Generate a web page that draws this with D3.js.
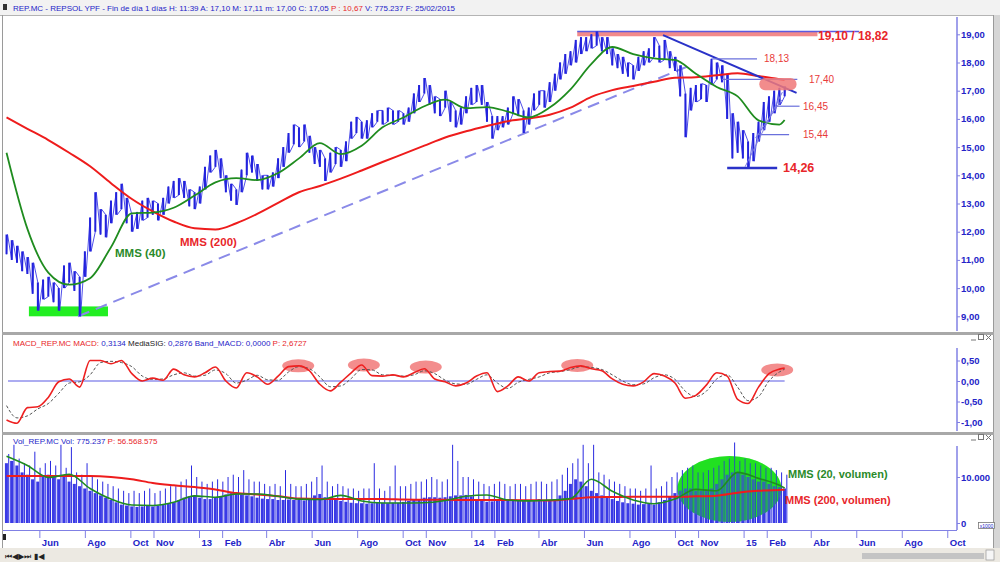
<!DOCTYPE html>
<html>
<head>
<meta charset="utf-8">
<script src="https://cdn.jsdelivr.net/npm/d3@7"></script>
<style>
body{margin:0;background:#fff}
svg{display:block;font-family:"Liberation Sans",Arial,sans-serif}
</style>
</head>
<body>
<svg width="1000" height="562"></svg>
<script>
var svg = d3.select("svg"),
	width = +svg.attr("width"),
	height = +svg.attr("height");

// weekly bars, Wednesdays, from 18 Apr 2012 to 25 Feb 2015
var firstWeek = new Date(2012, 3, 18);
var weekCount = 150;

var priceLow = [11.2,11.0,10.9,10.6,10.5,9.8,9.2,9.6,9.7,9.5,
	9.2,10.0,10.2,9.9,9.0,10.4,11.3,12.0,11.9,11.8,
	12.3,12.6,12.8,12.3,12.0,12.1,12.4,12.5,12.6,12.4,
	12.6,13.0,13.2,13.3,13.2,12.9,12.8,13.0,13.5,14.1,
	14.3,13.9,13.4,13.1,12.95,13.4,14.0,14.1,13.8,13.5,
	13.5,13.6,13.9,14.3,14.8,15.1,15.0,15.2,14.8,14.4,
	14.3,13.8,14.1,14.4,14.3,14.5,15.3,15.5,15.3,15.3,
	15.7,15.9,15.8,15.9,15.8,15.9,15.8,15.9,16.2,16.6,
	16.9,16.5,16.2,16.1,16.4,15.9,15.7,15.8,16.2,16.5,
	16.6,16.5,15.9,15.3,15.6,15.7,15.8,16.2,16.1,15.5,
	15.8,16.3,16.5,16.4,16.6,17.0,17.4,17.6,17.9,18.0,
	18.3,18.4,18.5,18.6,18.4,18.3,17.9,17.8,17.6,17.5,
	17.4,17.7,17.9,18.0,18.2,18.0,18.1,17.8,17.7,16.8,
	15.35,16.3,16.6,16.7,16.6,17.2,17.4,17.3,16.0,14.6,
	14.8,14.6,14.26,14.5,15.2,15.6,15.9,16.2,16.5,16.8];
var priceHigh = [11.9,11.7,11.5,11.3,11.1,10.9,10.2,10.3,10.4,10.2,
	10.0,10.8,10.9,10.6,10.4,11.3,12.5,13.4,12.8,12.6,
	13.1,13.4,13.7,13.2,12.6,12.7,13.1,13.2,13.1,13.0,
	13.2,13.6,13.8,13.9,13.8,13.5,13.4,13.6,14.3,14.7,
	14.9,14.6,14.0,13.7,13.5,14.2,14.8,14.7,14.4,14.0,
	14.0,14.1,14.6,15.0,15.5,15.8,15.7,15.8,15.4,15.0,
	14.9,14.6,14.8,15.0,14.9,15.2,15.9,16.07,15.9,15.95,
	16.2,16.3,16.3,16.4,16.3,16.3,16.2,16.4,16.9,17.2,
	17.45,17.2,16.8,16.7,17.0,16.6,16.3,16.4,16.8,17.1,
	17.2,17.2,16.6,16.1,16.1,16.1,16.4,16.8,16.7,16.3,
	16.4,16.9,17.0,17.0,17.3,17.6,18.0,18.3,18.4,18.8,
	18.9,18.9,19.0,19.1,18.9,18.9,18.5,18.3,18.2,18.0,
	17.9,18.2,18.4,18.5,18.9,18.6,18.8,18.4,18.2,17.9,
	16.9,17.1,17.2,17.25,17.2,18.13,18.0,17.9,17.6,16.2,
	15.9,15.6,15.2,15.5,15.9,16.6,16.8,17.0,17.1,17.15];

// moving averages read every 4 weeks (plus last week)
var mms40 = [14.8,12.1,10.55,10.12,10.35,11.45,12.65,12.68,12.85,13.28,
	13.75,13.9,13.83,14.08,14.6,15.14,14.75,15.05,15.7,16.05,
	16.45,16.68,16.38,16.42,16.26,16.05,16.4,17.05,17.95,18.55,
	18.3,18.15,18.09,17.6,17.13,16.8,15.95,15.8,15.96];
var mms200 = [16.05,15.65,15.25,14.8,14.32,13.72,13.16,12.72,12.36,12.12,
	12.08,12.3,12.63,13.02,13.4,13.62,13.88,14.17,14.47,14.76,
	15.05,15.34,15.56,15.75,15.92,16.02,16.15,16.4,16.78,17.02,
	17.17,17.32,17.46,17.48,17.55,17.62,17.52,17.41,17.38];

// MACD read every 2 weeks (plus last week)
var macdLine = [-0.95,-1.03,-0.65,-0.63,-0.4,-0.02,0.05,-0.15,0.5,0.5,
	0.42,0.5,0.18,0.0,0.07,0.02,0.29,0.15,0.1,0.2,
	0.34,0.0,-0.17,0.2,0.1,-0.08,0.12,0.35,0.37,0.25,
	-0.08,-0.24,-0.03,0.2,0.39,0.13,0.12,0.15,0.1,0.2,
	0.3,0.05,-0.02,-0.12,-0.05,0.12,0.2,-0.26,-0.12,0.1,
	0.0,0.2,0.23,0.24,0.33,0.37,0.3,0.25,0.05,-0.08,
	-0.12,-0.02,0.18,0.12,-0.05,-0.42,-0.35,-0.1,0.2,0.12,
	-0.45,-0.55,-0.15,0.18,0.29,0.3134];
var macdSignal = [-0.6,-0.9,-0.85,-0.68,-0.55,-0.3,-0.05,-0.02,0.15,0.45,
	0.48,0.45,0.35,0.12,0.04,0.05,0.15,0.2,0.12,0.14,
	0.27,0.18,-0.05,0.02,0.14,0.03,0.02,0.22,0.35,0.3,
	0.1,-0.14,-0.12,0.06,0.28,0.27,0.15,0.14,0.12,0.15,
	0.25,0.18,0.02,-0.07,-0.08,0.04,0.15,-0.05,-0.18,-0.03,
	0.04,0.1,0.2,0.23,0.28,0.35,0.33,0.28,0.15,0.0,
	-0.09,-0.07,0.08,0.15,0.04,-0.25,-0.38,-0.25,0.05,0.15,
	-0.15,-0.48,-0.38,0.0,0.22,0.2876];

// volume in thousands: weekly body level and weekly peak
var volBody = [13,13.5,12.5,11,10.5,9.5,9,10,10.5,10,
	9.5,10,9,8.5,8,7.5,7,6.5,6,5.5,
	5,4.5,4,3.8,3.6,3.5,3.6,3.8,3.6,3.8,
	4,4.2,4.5,5,5.5,5.8,6,5.5,5.2,5.2,
	5.5,5.8,6.2,6.5,6.4,6.2,6,5.8,5.5,5.3,
	5.2,5.2,5,5,5.1,5,5,4.9,5.2,6,
	6.3,5.6,5,5,4.8,4.6,4.4,4.3,4.3,4.2,
	4.3,4.4,4.4,4.3,4.4,4.4,4.6,4.8,5,5.2,
	5.5,5.6,5.6,5.5,5.6,5.8,6,6,6.1,5.8,
	5.2,4.8,4.6,4.7,5,5,4.9,5,5,4.9,
	5,5,5.2,5,5,5.2,6,7,8.5,9.5,
	9,8,7,6.5,6,5.5,5.2,4.8,4.5,4.3,
	4.2,4,4.1,4.2,4,4.5,5,5.8,6.5,7,
	7.5,7.5,7,7,7.2,7.5,8.5,9.5,10.5,11,
	11,10.5,10,9.5,9,9,8.5,8,7.8,7.5];
var volPeak = [15,17,14,13,12.5,15.5,12,13,13.5,12.5,
	17,12,16.5,11,10.5,13,10,9.5,9,8.5,
	8,7.5,7,6.5,7,6.5,7,7.5,6.5,7,
	7.5,8,8,9,9.5,12.5,10,9,8.5,9,
	9.5,9,10,10.5,10,11.5,9.5,9,9,8.5,
	8,8.5,8,11.5,8.5,8,8,8.5,9,10,
	12.5,9,8,8.5,8,7.5,7.5,7,7.5,7.5,
	13,7.5,7,8,12.5,8,8,8.5,9,9,
	9.5,10,9.5,9,9.5,17,13.5,10,10,9.5,
	9,8.5,8,8.5,9,8.5,8,8.5,8.5,8,
	8.5,9,9,8.5,9,9.5,10.5,12,13,14,
	17,13,17,11,10.5,9.5,9,8.5,8,7.5,
	7.5,7,7.5,12.5,7.5,8,9,10,11,11.5,
	12,12.5,11,11,11.5,12,12.5,13.5,14,17.5,
	13.5,14,13,13,12.5,12,12,11.5,11,10.5];
var volMms20 = [14.5,12.5,9.9,10.6,7.5,5.2,3.9,3.8,4.5,5.9,
	5.6,6.3,6.3,5.8,5.2,5.1,6.0,4.8,4.35,4.35,
	4.4,4.9,5.8,6.1,5.0,4.8,5.0,5.3,9.5,6.9,
	5.0,4.2,5.2,7.3,7.0,11.0,9.7,8.2,7.6];
var volMms200 = [10.2,10.2,10.2,10.2,10.2,10.0,9.5,8.7,8.2,7.8,
	7.3,6.5,6.2,5.8,5.3,5.2,5.2,5.2,5.2,5.1,
	5.05,5.05,5.0,5.0,5.0,4.95,4.9,5.2,5.6,5.65,
	5.7,5.7,5.7,5.8,5.95,6.6,7.0,7.2,7.25];

var monthTicks = [["2012-06-01","Jun"],["2012-08-01","Ago"],["2012-10-01","Oct"],["2012-11-01","Nov"],
	["2013-01-01","13"],["2013-02-01","Feb"],["2013-04-01","Abr"],["2013-06-01","Jun"],["2013-08-01","Ago"],
	["2013-10-01","Oct"],["2013-11-01","Nov"],["2014-01-01","14"],["2014-02-01","Feb"],["2014-04-01","Abr"],
	["2014-06-01","Jun"],["2014-08-01","Ago"],["2014-10-01","Oct"],["2014-11-01","Nov"],["2015-01-01","15"],
	["2015-02-01","Feb"],["2015-04-01","Abr"],["2015-06-01","Jun"],["2015-08-01","Ago"],["2015-10-01","Oct"]];
var priceTicks = [9,10,11,12,13,14,15,16,17,18,19];
var macdTicks = [0.5,0,-0.5,-1];
var volTicks = [0,10];

// price levels drawn on the chart
var levels = [
	{v:18.13, from:"2014-11-20", to:"2015-01-19", label:"18,13", lx:764},
	{v:17.40, from:"2014-12-03", to:"2015-03-14", label:"17,40", lx:809},
	{v:16.45, from:"2015-02-14", to:"2015-03-17", label:"16,45", lx:803},
	{v:15.44, from:"2015-01-19", to:"2015-03-03", label:"15,44", lx:803}
];
var macdMarks = [["2013-05-14",0.37],["2013-08-10",0.39],["2013-11-01",0.34],["2014-05-23",0.38],["2015-02-15",0.27]];

var parse = d3.timeParse("%Y-%m-%d");
var weeks = d3.range(weekCount).map(function(i) { return d3.timeDay.offset(firstWeek, 7 * i); });
var maIdx = d3.range(0, weekCount, 4).concat([weekCount - 1]);
var macdIdx = d3.range(0, weekCount, 2).concat([weekCount - 1]);

var x = d3.scaleTime().domain([new Date(2013,0,1), new Date(2015,0,1)]).range([199, 743.6]);
var yP = d3.scaleLinear().domain([9, 19]).range([316.3, 34.3]);
var yM = d3.scaleLinear().domain([-1, 0.5]).range([422, 360.5]);
var yV = d3.scaleLinear().domain([0, 10]).range([523, 477]);

var axisX = 957;
var blue = "#2424c8", red = "#e8262a", green = "#2a8a2a", lav = "#8080e4";

// ---- frame ----
svg.append("rect").attr("width", width).attr("height", height).attr("fill", "#fff");
svg.append("rect").attr("width", width).attr("height", 15).attr("fill", "#f2f2f2");
svg.append("line").attr("x1",0).attr("x2",width).attr("y1",15.5).attr("y2",15.5).attr("stroke","#b4b4b4");
svg.append("rect").attr("x",3).attr("y",4).attr("width",4).attr("height",6).attr("fill","#333");
svg.append("rect").attr("x",994).attr("y",15).attr("width",6).attr("height",547).attr("fill","#d6d6d6");
svg.append("line").attr("x1",2.5).attr("x2",2.5).attr("y1",15).attr("y2",548).attr("stroke","#9a9a9a");
svg.append("line").attr("x1",993.5).attr("x2",993.5).attr("y1",15).attr("y2",548).attr("stroke","#9a9a9a");
[333.5, 433.5].forEach(function(y) {
	svg.append("rect").attr("x",2).attr("y",y-1.5).attr("width",992).attr("height",3).attr("fill","#a8a8a8");
});

function header(y, parts) {
	var t = svg.append("text").attr("x", 13).attr("y", y).style("font-size", "8px");
	parts.forEach(function(p) { t.append("tspan").attr("fill", p[1]).text(p[0]); });
}
header(10.5, [["REP.MC - REPSOL YPF - Fin de día 1 días H: 11:39  A: 17,10  M: 17,11  m: 17,00  C: 17,05  ", blue], ["P : 10,67", red], ["  V: 775.237  F: 25/02/2015", blue]]);
header(346, [["MACD_REP.MC  MACD: ", red], ["0,3134  ", blue], ["MediaSIG: ", "#222"], ["0,2876  Band_MACD: 0,0000  ", blue], ["P: 2,6727", red]]);
header(444, [["Vol_REP.MC  Vol: 775.237  ", blue], ["P: 56.568.575", red]]);

// window buttons of sub panels
[337, 437].forEach(function(y) {
	var b = svg.append("g").attr("fill", "none").attr("stroke", "#777");
	b.append("line").attr("x1",971).attr("x2",976).attr("y1",y+3).attr("y2",y+3);
	b.append("rect").attr("x",978.5).attr("y",y-2.5).attr("width",5).attr("height",5);
	b.append("path").attr("d","M986," + (y-2) + "l5,5M991," + (y-2) + "l-5,5");
});

// ---- right axes ----
function rightAxis(scale, ticks, fmt, y0, y1) {
	svg.append("line").attr("x1", axisX).attr("x2", axisX).attr("y1", y0).attr("y2", y1)
		.attr("stroke", lav).attr("stroke-width", 1.5);
	var a = svg.append("g").attr("transform", "translate(" + axisX + ",0)")
		.call(d3.axisRight(scale).tickValues(ticks).tickSize(3).tickPadding(1).tickFormat(fmt));
	a.select(".domain").remove();
	a.selectAll("line").attr("stroke", lav);
	a.selectAll("text").attr("fill", blue).style("font-size", "9.5px").style("font-weight", "bold")
		.style("font-family", "'Liberation Sans Narrow','Liberation Sans',Arial,sans-serif");
}
var comma = function(f) { return function(d) { return d3.format(f)(d).replace("−", "-").replace(".", ","); }; };
rightAxis(yP, priceTicks, comma(".2f"), 17, 331);
rightAxis(yM, macdTicks, comma(".2f"), 348, 431);
rightAxis(yV, volTicks, function(d) { return d === 0 ? "0" : d3.format(",")(d * 1000).replace(",", "."); }, 446, 530);
svg.append("rect").attr("x",978.5).attr("y",522.5).attr("width",16).attr("height",6).attr("fill","#fff").attr("stroke","#777").attr("stroke-width",0.8);
svg.append("text").attr("x",986.5).attr("y",527.5).attr("text-anchor","middle").style("font-size","5px").attr("fill",blue).text("x1000");

// ---- bottom time axis ----
svg.append("line").attr("x1", 3).attr("x2", axisX).attr("y1", 530.5).attr("y2", 530.5).attr("stroke", lav);
var xa = svg.append("g").attr("transform", "translate(0,530)")
	.call(d3.axisBottom(x).tickValues(monthTicks.map(function(d) { return parse(d[0]); }))
		.tickSize(8).tickFormat(function(d, i) { return monthTicks[i][1]; }));
xa.select(".domain").remove();
xa.selectAll("line").attr("stroke", lav);
xa.selectAll("text").attr("fill", blue).attr("text-anchor", "start").attr("x", 2).attr("y", 8).attr("dy", "0.8em")
	.style("font-size", "9.5px").style("font-weight", "bold")
	.style("font-family", "'Liberation Sans Narrow','Liberation Sans',Arial,sans-serif");

// scroll bar
svg.append("rect").attr("x",0).attr("y",548).attr("width",width).attr("height",14).attr("fill","#ece9e2");
svg.append("rect").attr("x",862).attr("y",553).attr("width",122).attr("height",6).attr("fill","#c4c4c4");
svg.append("rect").attr("x",986).attr("y",550).attr("width",8).attr("height",10).attr("fill","#f6f6f6").attr("stroke","#888").attr("stroke-width",0.6);
svg.append("text").attr("x",5).attr("y",559).style("font-size","8px").style("font-family","'DejaVu Sans',sans-serif")
	.attr("fill","#222").text("⏮◀▶⏭ ▮◀");
svg.append("rect").attr("x",3).attr("y",534).attr("width",3).attr("height",6).attr("fill","#222");

// ---- main price panel ----
var main = svg.append("g");

main.append("rect")
	.attr("x", x(parse("2012-05-18"))).attr("width", x(parse("2012-09-01")) - x(parse("2012-05-18")))
	.attr("y", yP(9.35)).attr("height", yP(9.0) - yP(9.35)).attr("fill", "#22ee22");

main.append("rect")
	.attr("x", x(parse("2014-05-23"))).attr("width", x(parse("2015-04-10")) - x(parse("2014-05-23")))
	.attr("y", yP(19.1)).attr("height", yP(18.93) - yP(19.1)).attr("fill", "#f28a8a");
main.append("line")
	.attr("x1", x(parse("2014-05-23"))).attr("x2", x(parse("2015-06-05")))
	.attr("y1", yP(19.1)).attr("y2", yP(19.1)).attr("stroke", "#5a5ae0").attr("stroke-width", 1.5);

// dashed support line
main.append("line")
	.attr("x1", x(parse("2012-07-23"))).attr("y1", yP(9.0))
	.attr("x2", x(parse("2014-10-17"))).attr("y2", yP(17.85))
	.attr("stroke", "#8a8ae8").attr("stroke-width", 2).attr("stroke-dasharray", "12,7");

// price bars: weekly high-low ranges, joined by a thin trace
var trace = [];
weeks.forEach(function(d, i) {
	var up = i + 1 < weekCount && priceHigh[i + 1] + priceLow[i + 1] > priceHigh[i] + priceLow[i];
	trace.push([x(d), yP(up ? priceHigh[i] : priceLow[i])]);
	trace.push([x(d) + 1, yP(up ? priceLow[i] : priceHigh[i])]);
});
main.append("path").attr("d", d3.line()(trace))
	.attr("fill", "none").attr("stroke", "#3a3ae6").attr("stroke-width", 0.9);
main.selectAll(".bar").data(weeks).enter().append("line")
	.attr("x1", function(d) { return x(d); }).attr("x2", function(d) { return x(d); })
	.attr("y1", function(d, i) { return yP(priceLow[i]); })
	.attr("y2", function(d, i) { return yP(priceHigh[i]); })
	.attr("stroke", "#2222dc").attr("stroke-width", 2);

// moving averages
var maLine = function(vals, scale) {
	return d3.line().curve(d3.curveMonotoneX)
		.x(function(d, i) { return x(weeks[maIdx[i]]); })
		.y(function(d) { return scale(d); })(vals);
};
main.append("path").attr("d", maLine(mms200, yP)).attr("fill", "none").attr("stroke", "#ee1c1c").attr("stroke-width", 2);
main.append("path").attr("d", maLine(mms40, yP)).attr("fill", "none").attr("stroke", "#1f8c1f").attr("stroke-width", 1.8);

// trend lines and levels
main.append("line")
	.attr("x1", x(parse("2014-09-15"))).attr("y1", yP(18.97))
	.attr("x2", x(parse("2015-03-13"))).attr("y2", yP(16.92))
	.attr("stroke", "#2a32c8").attr("stroke-width", 2);
main.selectAll(".lvl").data(levels).enter().append("line")
	.attr("x1", function(d) { return x(parse(d.from)); }).attr("x2", function(d) { return x(parse(d.to)); })
	.attr("y1", function(d) { return yP(d.v); }).attr("y2", function(d) { return yP(d.v); })
	.attr("stroke", "#6a70dc").attr("stroke-width", 1.2);
main.append("rect")
	.attr("x", x(parse("2015-01-22"))).attr("width", x(parse("2015-03-13")) - x(parse("2015-01-22")))
	.attr("y", yP(17.45)).attr("height", yP(17.02) - yP(17.45)).attr("rx", 6)
	.attr("fill", "#f07878").attr("opacity", 0.85);
main.append("line")
	.attr("x1", x(parse("2014-12-10"))).attr("x2", x(parse("2015-02-15")))
	.attr("y1", yP(14.26)).attr("y2", yP(14.26)).attr("stroke", "#2a32c8").attr("stroke-width", 2.5);
[["2015-01-03",14.3,"2015-02-22",16.95],["2015-01-17",15.32,"2015-02-21",16.67]].forEach(function(s) {
	main.append("line")
		.attr("x1", x(parse(s[0]))).attr("y1", yP(s[1])).attr("x2", x(parse(s[2]))).attr("y2", yP(s[3]))
		.attr("stroke", "#7a7ae0").attr("stroke-width", 1);
});

main.selectAll(".lvlText").data(levels).enter().append("text")
	.attr("x", function(d) { return d.lx; }).attr("y", function(d) { return yP(d.v) + 3.5; })
	.attr("fill", "#e83a3a").style("font-size", "10px").text(function(d) { return d.label; });

function note(txt, xx, yy, size, color) {
	svg.append("text").attr("x", xx).attr("y", yy).attr("fill", color)
		.style("font-size", size + "px").style("font-weight", "bold").text(txt);
}
note("19,10 / 18,82", 818, yP(18.95) + 4, 12, red);
note("14,26", 783, yP(14.26) + 4.5, 12.5, red);
note("MMS (40)", 115, 257, 11.5, green);
note("MMS (200)", 180, 246, 11.5, red);

// ---- MACD panel ----
var macd = svg.append("g");
macd.append("line").attr("x1", 8).attr("x2", x(weeks[weekCount - 1])).attr("y1", yM(0)).attr("y2", yM(0))
	.attr("stroke", "#5a5ae4").attr("stroke-width", 1.2);
macd.selectAll("ellipse").data(macdMarks).enter().append("ellipse")
	.attr("cx", function(d) { return x(parse(d[0])); }).attr("cy", function(d) { return yM(d[1]); })
	.attr("rx", 16).attr("ry", 6.5).attr("fill", "#f07070").attr("opacity", 0.8);
var macdPath = function(vals) {
	return d3.line().curve(d3.curveMonotoneX)
		.x(function(d, i) { return x(weeks[macdIdx[i]]); })
		.y(function(d) { return yM(d); })(vals);
};
macd.append("path").attr("d", macdPath(macdSignal)).attr("fill", "none")
	.attr("stroke", "#555").attr("stroke-width", 1).attr("stroke-dasharray", "3,2");
macd.append("path").attr("d", macdPath(macdLine)).attr("fill", "none")
	.attr("stroke", "#ee2020").attr("stroke-width", 1.6);

// ---- volume panel ----
var vol = svg.append("g");
var ell = {date: "2014-12-13", v: 7.4, rx: 52, ry: 33};
vol.append("ellipse").attr("cx", x(parse(ell.date))).attr("cy", yV(ell.v))
	.attr("rx", ell.rx).attr("ry", ell.ry).attr("fill", "#22e022");
vol.selectAll(".vb").data(weeks).enter().append("rect")
	.attr("x", function(d) { return x(d) - 1.6; }).attr("width", 3)
	.attr("y", function(d, i) { return yV(volBody[i]); })
	.attr("height", function(d, i) { return yV(0) - yV(volBody[i]); })
	.attr("fill", "#3a3ae6");
vol.selectAll(".vp").data(weeks).enter().append("line")
	.attr("x1", function(d) { return x(d) + 2.2; }).attr("x2", function(d) { return x(d) + 2.2; })
	.attr("y1", yV(0)).attr("y2", function(d, i) { return yV(volPeak[i]); })
	.attr("stroke", "#2a2ae0").attr("stroke-width", 1);
vol.append("ellipse").attr("cx", x(parse(ell.date))).attr("cy", yV(ell.v))
	.attr("rx", ell.rx).attr("ry", ell.ry).attr("fill", "#22e022").attr("opacity", 0.3);
vol.append("path").attr("d", maLine(volMms200, yV)).attr("fill", "none").attr("stroke", "#ee1c1c").attr("stroke-width", 2);
vol.append("path").attr("d", maLine(volMms20, yV)).attr("fill", "none").attr("stroke", "#1f8c1f").attr("stroke-width", 1.6);
note("MMS (20, volumen)", 788, 478, 11, green);
note("MMS (200, volumen)", 785, 504, 11, red);
</script>
</body>
</html>
